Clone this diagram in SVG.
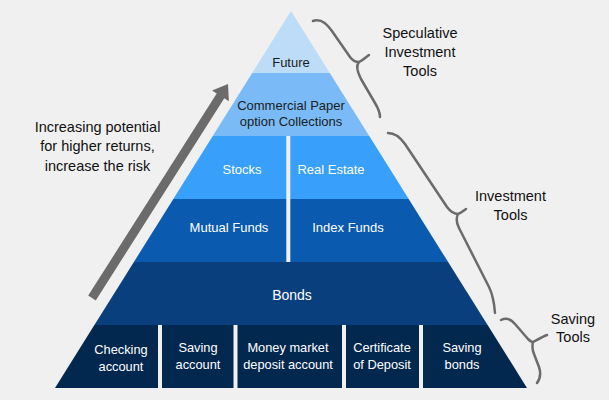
<svg xmlns="http://www.w3.org/2000/svg" width="609" height="400" viewBox="0 0 609 400">
<style>
text{font-family:"Liberation Sans",Arial,sans-serif;text-anchor:middle}
.dk{fill:#1b1b1b;font-size:13px}
.wt{fill:#ffffff;font-size:13px}
.bt{fill:#ffffff;font-size:12.8px}
.lb{fill:#111111;font-size:14.5px}
.brace{fill:none;stroke:#6b6b6b;stroke-width:2.5;stroke-linecap:round;stroke-linejoin:round}
</style>
<rect width="609" height="400" fill="#f0f0f0"/>
<g id="future"><polygon points="291,11 329.8,73 252.2,73" fill="#bcdcf8"/><text class="dk" x="291" y="66.5">Future</text></g>
<g id="commercial-paper"><polygon points="252.2,73 329.8,73 369.25,136 212.75,136" fill="#7abbf7"/><text class="dk" x="291" y="109.5">Commercial Paper</text><text class="dk" x="291" y="126">option Collections</text></g>
<g id="stocks"><polygon points="212.75,136 286.3,136 286.3,199 173.3,199" fill="#389ffb"/><text class="wt" x="242" y="174">Stocks</text></g>
<g id="real-estate"><polygon points="290.3,136 369.25,136 408.7,199 290.3,199" fill="#389ffb"/><text class="wt" x="331" y="173.5">Real Estate</text></g>
<g id="mutual-funds"><polygon points="173.3,199 286.3,199 286.3,262 133.9,262" fill="#0a5bb0"/><text class="wt" x="229" y="231.5">Mutual Funds</text></g>
<g id="index-funds"><polygon points="290.3,199 408.7,199 448.1,262 290.3,262" fill="#0a5bb0"/><text class="wt" x="348" y="231.5">Index Funds</text></g>
<g id="bonds"><polygon points="133.9,262 448.1,262 487.6,325 94.4,325" fill="#0a3f7e"/><text class="wt" x="292" y="299.5" style="font-size:14px">Bonds</text></g>
<g id="checking-account"><polygon points="94.4,325 158,325 158,388 55,388" fill="#03284f"/><text class="bt" x="121" y="354">Checking</text><text class="bt" x="121" y="370.5">account</text></g>
<g id="saving-account"><polygon points="162,325 233.5,325 233.5,388 162,388" fill="#03284f"/><text class="bt" x="198" y="352">Saving</text><text class="bt" x="198" y="368.5">account</text></g>
<g id="money-market"><polygon points="237.5,325 342,325 342,388 237.5,388" fill="#03284f"/><text class="bt" x="288" y="352">Money market</text><text class="bt" x="288" y="368.5">deposit account</text></g>
<g id="certificate-of-deposit"><polygon points="346,325 419,325 419,388 346,388" fill="#03284f"/><text class="bt" x="382" y="352">Certificate</text><text class="bt" x="382" y="368.5">of Deposit</text></g>
<g id="saving-bonds"><polygon points="423,325 487.6,325 527,388 423,388" fill="#03284f"/><text class="bt" x="462" y="352">Saving</text><text class="bt" x="462" y="368.5">bonds</text></g>
<g id="risk-label"><text class="lb" x="97.5" y="131.5">Increasing potential</text><text class="lb" x="97.5" y="151">for higher returns,</text><text class="lb" x="97.5" y="170.5">increase the risk</text></g>
<g id="speculative-label"><text class="lb" x="420" y="38">Speculative</text><text class="lb" x="420" y="57">Investment</text><text class="lb" x="420" y="76">Tools</text></g>
<g id="investment-label"><text class="lb" x="510.5" y="200.5">Investment</text><text class="lb" x="510.5" y="219.5">Tools</text></g>
<g id="saving-label"><text class="lb" x="573" y="323.5">Saving</text><text class="lb" x="573" y="341.5">Tools</text></g>
<g id="connectors">
<polygon points="95.8,300.4 88.2,295.6 216.7,93.4 212.1,90.4 228,84 228.9,101.2 224.3,98.2" fill="#6b6b6b"/>
<path class="brace" d="M313,21 C322,18 328,25 334,34 L350,57 C353,61 357,62 359,62 C362,61 365,58 369,55 M359,62 C356,65 357,71 361,79 L375,103 C378,108 380,112 380,117"/>
<path class="brace" d="M388,133 C395,133 400,137 405,144 L447,207 C450,211 454,214 458,214 C461,213 463,211 466,209 M458,214 C456,218 456,222 459,228 L489,287 C492,293 494,300 495,313"/>
<path class="brace" d="M501,320 C505,318 510,318 515,324 L528,339 C530,341 532,342 533,342 C537,340 542,337 547,335 M533,342 C532,346 532,349 534,354 L539,367 C541,373 540,379 537,383"/>
</g>
</svg>
